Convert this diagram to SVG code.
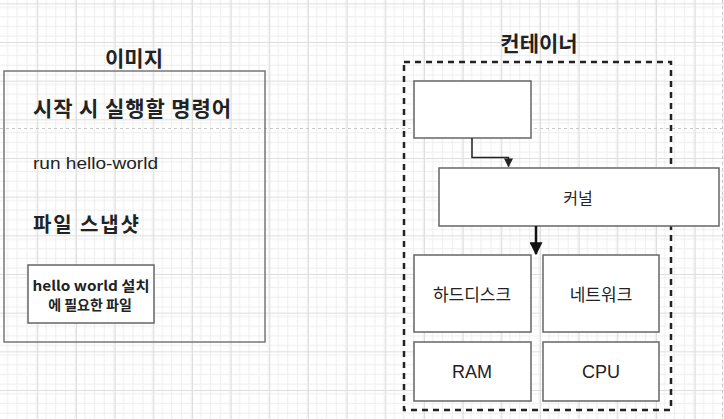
<svg xmlns="http://www.w3.org/2000/svg" width="724" height="419" viewBox="0 0 724 419">
<defs>
<pattern id="minor" width="9.667" height="9.667" patternUnits="userSpaceOnUse" x="-1.33" y="3.33">
<path d="M0 0.5H9.667M0.5 0V9.667" fill="none" stroke="#ededed" stroke-width="1"/>
</pattern>
<pattern id="major" width="38.667" height="38.667" patternUnits="userSpaceOnUse" x="-1.33" y="3.33">
<rect width="38.667" height="38.667" fill="url(#minor)"/>
<path d="M0 0.5H38.667M0.5 0V38.667" fill="none" stroke="#dedede" stroke-width="1"/>
</pattern>
<marker id="arrSmall" viewBox="0 0 10 10" refX="9" refY="5" markerWidth="9" markerHeight="9" markerUnits="userSpaceOnUse" orient="auto">
<path d="M0 0L10 5L0 10Z" fill="#222"/>
</marker>
<marker id="arrBig" viewBox="0 0 10 10" refX="9" refY="5" markerWidth="13" markerHeight="13" markerUnits="userSpaceOnUse" orient="auto">
<path d="M0 0L10 5L0 10Z" fill="#111"/>
</marker>
</defs>
<style>
.box{fill:#fff;stroke:#666;stroke-width:1.5}
.frame{fill:none;stroke:#777;stroke-width:1.5}
.kr{font-family:"Noto Sans CJK KR","Liberation Sans",sans-serif;fill:#222}
.lat{font-family:"Liberation Sans","Noto Sans CJK KR",sans-serif;fill:#222}
.b{font-weight:bold}
.c{text-anchor:middle;dominant-baseline:central}
.page{stroke:#c8c8c8;stroke-width:1;stroke-dasharray:3 3;fill:none}
</style>
<rect width="724" height="419" fill="#fff"/>
<rect width="724" height="419" fill="url(#major)"/>
<path class="page" d="M0 128.5H724M722.5 0V419"/>

<g id="image">
<text class="kr b c" x="134" y="57" font-size="21">이미지</text>
<rect class="frame" x="4" y="71" width="261" height="271"/>
<text class="kr b" x="33" y="116" font-size="21" textLength="198" lengthAdjust="spacing">시작 시 실행할 명령어</text>
<text class="lat" x="33" y="169" font-size="17" textLength="125" lengthAdjust="spacingAndGlyphs">run hello-world</text>
<text class="kr b" x="33" y="232" font-size="20" textLength="106" lengthAdjust="spacing">파일 스냅샷</text>
</g>
<g id="files">
<rect class="box" x="28" y="265" width="126" height="58"/>
<text class="kr b c" x="91" y="285" font-size="14" textLength="117" lengthAdjust="spacingAndGlyphs">hello world 설치</text>
<text class="kr b c" x="90" y="304" font-size="14">에 필요한 파일</text>
</g>

<g id="container">
<text class="kr b c" x="539" y="42" font-size="21">컨테이너</text>
<rect x="404" y="62" width="267" height="348" fill="none" stroke="#222" stroke-width="2.5" stroke-dasharray="6 5"/>
</g>
<g id="app">
<rect class="box" x="414" y="81" width="117" height="57"/>
</g>
<g id="kernel">
<rect class="box" x="439" y="168" width="280" height="58"/>
<text class="kr c" x="578" y="197" font-size="16">커널</text>
</g>
<g id="disk">
<rect class="box" x="414" y="255" width="117" height="77"/>
<text class="kr c" x="472" y="293" font-size="17">하드디스크</text>
</g>
<g id="network">
<rect class="box" x="543" y="255" width="116" height="77"/>
<text class="kr c" x="601" y="293" font-size="17">네트워크</text>
</g>
<g id="ram">
<rect class="box" x="414" y="342" width="117" height="59"/>
<text class="lat c" x="472" y="372" font-size="18">RAM</text>
</g>
<g id="cpu">
<rect class="box" x="543" y="342" width="116" height="59"/>
<text class="lat c" x="601" y="372" font-size="18">CPU</text>
</g>

<g id="connectors" fill="none">
<path d="M472 138V157.5H508.5V166.5" stroke="#222" stroke-width="1.5" marker-end="url(#arrSmall)"/>
<path d="M536 226V254" stroke="#111" stroke-width="2.5" marker-end="url(#arrBig)"/>
</g>
</svg>
